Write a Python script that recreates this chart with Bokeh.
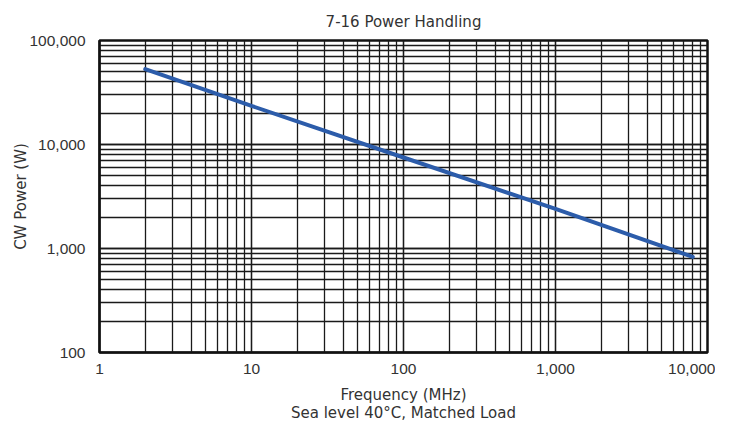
from bokeh.plotting import figure
from bokeh.models import Range1d, NumeralTickFormatter, LogTicker
from bokeh.embed import file_html
from bokeh.resources import INLINE

# Data
freq_mhz = [2, 10, 100, 1000, 8000]
cw_power_w = [53000, 23500, 7500, 2400, 830]

x_ticks = [1, 10, 100, 1000, 10000]
y_ticks = [100, 1000, 10000, 100000]

title_text = "7-16 Power Handling"
x_label = "Frequency (MHz)\nSea level 40°C, Matched Load"
y_label = "CW Power (W)"

FONT = "DejaVu Sans"
TICK_FONT = "Liberation Sans"
TXT = "#333333"

p = figure(frame_width=608, frame_height=312, x_axis_type="log", y_axis_type="log",
           x_range=Range1d(1, 10000), y_range=Range1d(100, 100000),
           output_backend="svg", toolbar_location=None,
           min_border_left=99, min_border_right=8, min_border_top=39, min_border_bottom=69)

p.title.text = title_text
p.title.align = "center"
p.title.text_font = FONT
p.title.text_font_size = "15px"
p.title.text_font_style = "normal"
p.title.text_color = TXT
p.title.standoff = 20

p.line(freq_mhz, cw_power_w, line_color="#2c5caa", line_width=4, line_cap="round")

for ax in (p.xaxis[0], p.yaxis[0]):
    ax.major_tick_line_color = None
    ax.minor_tick_line_color = None
    ax.major_tick_out = 0
    ax.minor_tick_out = 0
    ax.major_tick_in = 0
    ax.minor_tick_in = 0
    ax.axis_line_color = "#111111"
    ax.axis_line_width = 2
    ax.major_label_text_font = TICK_FONT
    ax.major_label_text_font_size = "15.5px"
    ax.major_label_text_color = TXT
    ax.axis_label_text_font = FONT
    ax.axis_label_text_font_size = "15px"
    ax.axis_label_text_font_style = "normal"
    ax.axis_label_text_color = TXT
    ax.formatter = NumeralTickFormatter(format="0,0")

p.xaxis.ticker = LogTicker(num_minor_ticks=10)
p.yaxis.ticker = LogTicker(num_minor_ticks=10)
p.xaxis.major_label_standoff = 11
p.yaxis.major_label_standoff = 14
p.xaxis.axis_label = x_label
p.yaxis.axis_label = y_label
p.xaxis.axis_label_standoff = 9
p.xaxis.axis_label_text_line_height = 1.0
p.yaxis.axis_label_standoff = -4

for g in (p.xgrid[0], p.ygrid[0]):
    g.grid_line_color = "#1a1a1a"
    g.grid_line_width = 1.3
    g.minor_grid_line_color = "#1a1a1a"
    g.minor_grid_line_width = 1.3

p.outline_line_color = "#111111"
p.outline_line_width = 2.5
p.background_fill_color = "white"
p.border_fill_color = "white"

open("out.html", "w").write(file_html(p, INLINE))
